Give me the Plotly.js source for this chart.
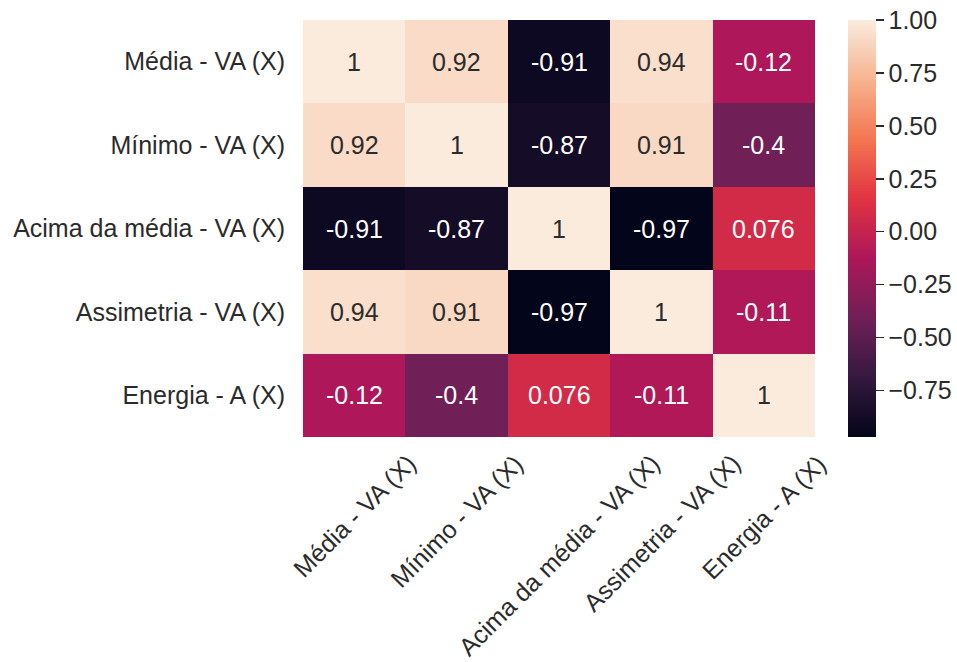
<!DOCTYPE html>
<html>
<head>
<meta charset="utf-8">
<script src="https://cdn.plot.ly/plotly-3.0.1.min.js"></script>
<style>html,body{margin:0;padding:0;background:#fff;}#chart{width:957px;height:662px;}</style>
</head>
<body>
<div id="chart"></div>
<script>
const categories = ["Média - VA (X)", "Mínimo - VA (X)", "Acima da média - VA (X)", "Assimetria - VA (X)", "Energia - A (X)"];
const row1 = [1, 0.92, -0.91, 0.94, -0.12];
const row2 = [0.92, 1, -0.87, 0.91, -0.4];
const row3 = [-0.91, -0.87, 1, -0.97, 0.076];
const row4 = [0.94, 0.91, -0.97, 1, -0.11];
const row5 = [-0.12, -0.4, 0.076, -0.11, 1];
const colorbarTicks = [-0.75, -0.5, -0.25, 0, 0.25, 0.5, 0.75, 1.0];

const z = [row1, row2, row3, row4, row5];
const zmin = -0.97, zmax = 1;
const rocket = [
  [0.0, "#03051a"], [0.143, "#35193e"], [0.286, "#701f57"], [0.429, "#ad1759"],
  [0.571, "#e13342"], [0.714, "#f37651"], [0.857, "#f6b48f"], [1.0, "#faebdd"]
];
const FONT = "Liberation Sans, Arial, sans-serif";
const TXT = "#2b2b2b";
const FS = 25;

const annotations = [];
z.forEach((row, i) => {
  row.forEach((v, j) => {
    annotations.push({
      x: categories[j], y: categories[i], xref: "x", yref: "y",
      text: String(v), showarrow: false,
      font: {family: FONT, size: FS, color: v > 0.3 ? TXT : "#ffffff"}
    });
  });
});
categories.forEach(c => {
  annotations.push({
    x: c, y: -0.022, xref: "x", yref: "paper", text: c, showarrow: false,
    textangle: -45, xanchor: "center", yanchor: "top",
    font: {family: FONT, size: FS, color: TXT}
  });
});

const trace = {
  type: "heatmap", x: categories, y: categories, z: z,
  zmin: zmin, zmax: zmax, colorscale: rocket, hoverinfo: "skip",
  colorbar: {
    x: 1.064, xanchor: "left", y: 0.5, yanchor: "middle", len: 1, lenmode: "fraction",
    thickness: 28, thicknessmode: "pixels", outlinewidth: 0,
    tickmode: "array", tickvals: colorbarTicks, tickformat: ".2f",
    ticks: "outside", ticklen: 8, tickwidth: 1.5, tickcolor: TXT,
    tickfont: {family: FONT, size: FS, color: TXT}, xpad: 0, ypad: 0
  }
};

const layout = {
  width: 957, height: 662,
  margin: {l: 303, r: 142, t: 20, b: 225, autoexpand: false},
  paper_bgcolor: "#ffffff", plot_bgcolor: "#ffffff",
  font: {family: FONT, size: FS, color: TXT},
  xaxis: {type: "category", categoryorder: "array", categoryarray: categories,
          range: [-0.5, 4.5], autorange: false,
          showticklabels: false, ticks: "", showgrid: false, zeroline: false, showline: false},
  yaxis: {type: "category", categoryorder: "array", categoryarray: categories,
          range: [4.5, -0.5], autorange: false, ticks: "", ticklabelstandoff: 17,
          tickfont: {family: FONT, size: FS, color: TXT},
          showgrid: false, zeroline: false, showline: false},
  annotations: annotations
};

Plotly.newPlot("chart", [trace], layout, {displayModeBar: false, staticPlot: true});
</script>
</body>
</html>
